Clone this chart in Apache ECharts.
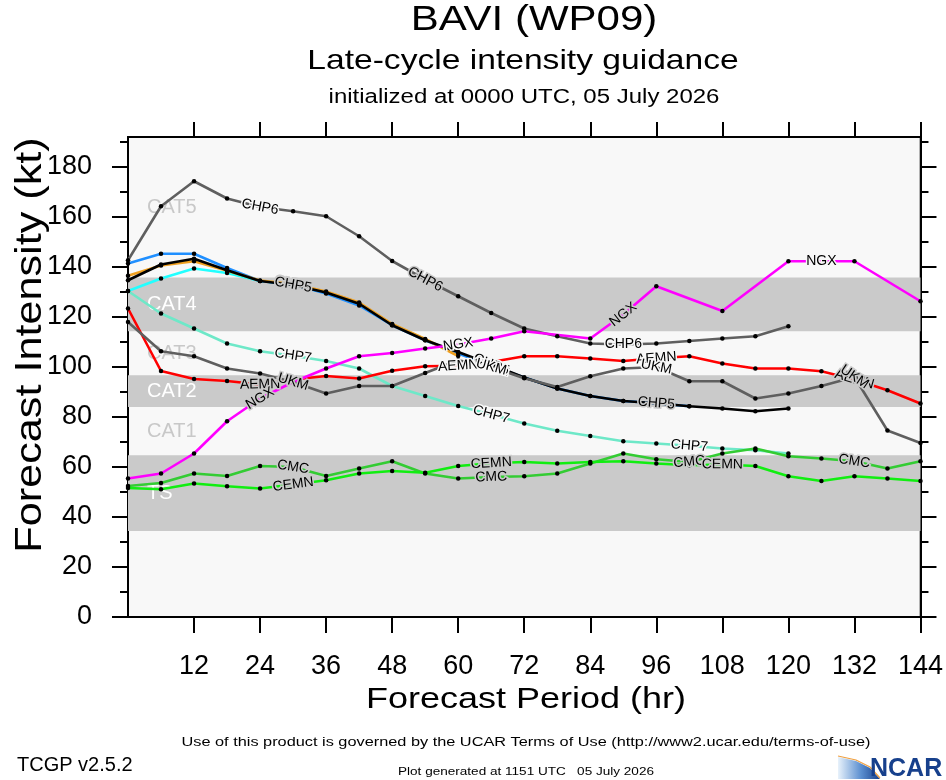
<!DOCTYPE html>
<html>
<head>
<meta charset="utf-8">
<script src="https://cdn.jsdelivr.net/npm/echarts@6/dist/echarts.min.js"></script>
<style>
html, body { margin: 0; padding: 0; background: #fff; }
#main { width: 946px; height: 780px; }
</style>
</head>
<body>
<div id="main"></div>
<script>
var FONT = 'Liberation Sans, Arial, Helvetica, sans-serif';

// forecast hours and axis ticks
var hours = [0,6,12,18,24,30,36,42,48,54,60,66,72,78,84,90,96,102,108,114,120,126,132,138,144];
var xTicks = [12,24,36,48,60,72,84,96,108,120,132,144];
var yTicks = [0,20,40,60,80,100,120,140,160,180];
var yMinorTicks = [10,30,50,70,90,110,130,150,170,190];

// intensity bands (kt)
var bandNames = ['TS','CAT1','CAT2','CAT3','CAT4','CAT5'];
var bandLow   = [34.4, 64.7, 84, 96.7, 114.3, 135.8];
var bandHigh  = [64.7, 84, 96.7, 114.3, 135.8, 192];

// model intensities (kt), one value per 6 h, null = no point
var chp6 = [142.7,164.3,174.3,167.4,164,162.3,160.3,152.3,142.4,135,128.3,121.6,115.4,112.3,109.4,109,109.4,110.4,111.4,112.3,116.3,null,null,null,null];
var cyan = [130.4,135.4,139.4,137.6,134.4,133,129.6,125.4,117,111,null,null,null,null,null,null,null,null,null,null,null,null,null,null,null];
var chp2 = [141.4,145.3,145.3,139.6,134.4,133,129.4,124.6,116.7,110.7,105.4,100.5,95.8,91.4,88.4,86.4,85.5,84.3,null,null,null,null,null,null,null];
var chp3 = [136.5,140.6,142.3,138.5,134.6,133.2,130.2,125.8,117.2,111.2,104.4,null,null,null,null,null,null,null,null,null,null,null,null,null,null];
var chp5 = [134.7,141,143.3,138.7,134.4,132.8,129.8,125.3,116.7,110.7,106,101,95.8,91.4,88.4,86.4,85.5,84.3,83.4,82.3,83.4,null,null,null,null];
var chp7 = [130.4,121.4,115.4,109.4,106.3,104.5,102.4,99.4,92.4,88.4,84.4,81,77.4,74.5,72.4,70.3,69.4,68.5,67.4,66.7,65.4,null,null,null,null];
var aemn = [123.4,98.4,95.2,94.4,93,95,96.4,95.4,98.5,100.3,100.5,102,104.3,104.3,103.4,102.4,103.5,104.3,101.4,99.4,99.4,98.3,95,90.7,85.4];
var ukm  = [118,106.3,104.3,99.4,97.4,94,89.4,92.4,92.4,97.6,102.7,100,95.5,92,96.3,99.4,100,94.3,94.3,87.4,89.4,92.4,96,74.6,69.6];
var ngx  = [55.4,57.4,65.4,78.3,87.4,94,99.4,104.3,105.6,107.4,109,111.4,114.3,null,111.4,121,132.3,null,122.4,null,142.3,142.3,142.3,null,126.3];
var cmc  = [52.4,53.6,57.4,56.4,60.4,60,56.4,59.4,62.3,57.4,55.4,56,56.3,57.4,61.4,65.4,63.1,62,65.4,67.4,64.3,63.4,62.3,59.4,62.3];
var cemn = [51.6,51.1,53.4,52.3,51.4,53,54.7,57.4,58.4,57.7,60.4,61.5,62,61.4,62,62.3,61.4,60.7,61,60.4,56.3,54.4,56.3,55.4,54.4];

var models = [
  { name: 'CHP6', data: chp6, color: '#5f5f5f', labelAt: [24,54,90] },
  { name: 'CHP4', data: cyan, color: '#22ffff', labelAt: [] },
  { name: 'CHP2', data: chp2, color: '#1f8fff', labelAt: [30,66] },
  { name: 'CHP3', data: chp3, color: '#f0a020', labelAt: [66] },
  { name: 'CHP5', data: chp5, color: '#000000', labelAt: [30,66,96] },
  { name: 'CHP7', data: chp7, color: '#6ee8c8', labelAt: [30,66,102] },
  { name: 'AEMN', data: aemn, color: '#ff0000', labelAt: [24,60,96,132] },
  { name: 'UKM',  data: ukm,  color: '#5f5f5f', labelAt: [30,66,96,132] },
  { name: 'NGX',  data: ngx,  color: '#ff00ff', labelAt: [24,60,90,126] },
  { name: 'CMC',  data: cmc,  color: '#33cc33', labelAt: [30,66,102,132] },
  { name: 'CEMN', data: cemn, color: '#11ee11', labelAt: [30,66,108] }
];

var SHADE = '#cacaca', PLAIN = '#f8f8f8';

var myChart = echarts.init(document.getElementById('main'));

function bandColor(v) {
  for (var i = 0; i < bandNames.length; i++) {
    if (v >= bandLow[i] && v < bandHigh[i]) return i % 2 === 0 ? SHADE : PLAIN;
  }
  return PLAIN;
}

function bandAreas() {
  var out = [];
  for (var i = 0; i < bandNames.length; i++) {
    var shaded = (i % 2 === 0);
    out.push([{
      yAxis: bandLow[i],
      name: bandNames[i],
      itemStyle: { color: shaded ? SHADE : 'rgba(0,0,0,0)' },
      label: { color: shaded ? '#ffffff' : '#c8c8c8' }
    }, { yAxis: bandHigh[i] }]);
  }
  return out;
}

function buildSeries(rot) {
  var list = [{
    type: 'line',
    data: [],
    z: 1,
    silent: true,
    markArea: {
      silent: true,
      data: bandAreas(),
      label: { position: 'insideLeft', distance: 19, fontSize: 20, fontFamily: FONT }
    }
  }];
  models.forEach(function (m, si) {
    var pts = [];
    hours.forEach(function (h, i) {
      var v = m.data[i];
      if (v == null) return;
      var lab = m.labelAt.indexOf(h) >= 0;
      var item = { value: [h, v], symbolSize: lab ? 0 : 4.5 };
      if (lab) {
        item.label = {
          show: true, formatter: m.name, position: 'inside',
          rotate: rot ? (rot[si + '_' + h] || 0) : 0,
          fontSize: 14, color: '#000', fontFamily: FONT,
          textBorderColor: bandColor(v), textBorderWidth: 3
        };
      }
      pts.push(item);
    });
    list.push({
      name: m.name,
      type: 'line',
      data: pts,
      z: 3,
      symbol: 'circle',
      itemStyle: { color: '#000' },
      lineStyle: { color: m.color, width: 2.6 },
      label: { show: false },
      emphasis: { disabled: true }
    });
  });
  return list;
}

function axisLineStyle() { return { show: true, onZero: false, lineStyle: { color: '#000', width: 2 } }; }
function tickStyle(vals, len) {
  return { show: true, inside: false, length: len, customValues: vals, lineStyle: { color: '#000', width: 2 } };
}
function bareAxis(pos, vals, len, withLine) {
  return {
    type: 'value', min: 0, max: pos === 'top' ? 144 : 192, position: pos,
    axisLine: withLine ? axisLineStyle() : { show: false, onZero: false },
    axisTick: tickStyle(vals, len),
    axisLabel: { show: false },
    splitLine: { show: false }
  };
}

function txt(x, y, s, size, extra) {
  var el = { type: 'text', x: x, y: y, scaleX: 1.2,
    style: { text: s, font: size + 'px ' + FONT, fill: '#000', textAlign: 'center', textVerticalAlign: 'middle' } };
  for (var k in extra) el[k] = extra[k];
  return el;
}

var option = {
  animation: false,
  backgroundColor: '#ffffff',
  grid: { left: 128, top: 137, width: 794, height: 480, show: true, backgroundColor: PLAIN, borderColor: '#000', borderWidth: 1.5 },
  xAxis: [{
    type: 'value', min: 0, max: 144, position: 'bottom',
    axisLine: axisLineStyle(),
    axisTick: tickStyle(xTicks, 16),
    axisLabel: { customValues: xTicks, fontSize: 27, color: '#000', margin: 36, fontFamily: FONT },
    splitLine: { show: false }
  }, bareAxis('top', xTicks, 15, true)],
  yAxis: [{
    type: 'value', min: 0, max: 192, position: 'left',
    axisLine: axisLineStyle(),
    axisTick: tickStyle(yTicks, 16),
    axisLabel: { customValues: yTicks, fontSize: 27, color: '#000', margin: 36, fontFamily: FONT },
    splitLine: { show: false }
  }, bareAxis('left', yMinorTicks, 8, false),
     bareAxis('right', yTicks, 16, true),
     bareAxis('right', yMinorTicks, 8, false)],
  graphic: [
    txt(534, 20, 'BAVI (WP09)', 35),
    txt(523, 61, 'Late-cycle intensity guidance', 28),
    txt(524, 97, 'initialized at 0000 UTC, 05 July 2026', 20),
    txt(526, 700, 'Forecast Period (hr)', 30),
    txt(31, 345, 'Forecast Intensity (kt)', 36, { rotation: Math.PI / 2 }),
    { type: 'text', x: 17, y: 765, style: { text: 'TCGP v2.5.2', font: '20px ' + FONT, fill: '#000', textVerticalAlign: 'middle' } },
    txt(526, 742, 'Use of this product is governed by the UCAR Terms of Use (http://www2.ucar.edu/terms-of-use)', 13.6),
    txt(526, 772, 'Plot generated at 1151 UTC   05 July 2026', 11.3),
    { type: 'polygon', shape: { points: [[838,757],[856,761],[870,768],[880,779],[838,779]] },
      style: { fill: new echarts.graphic.LinearGradient(0, 0, 1, 0, [{ offset: 0, color: '#e8f2fb' }, { offset: 0.55, color: '#5b8fd0' }, { offset: 1, color: '#17408c' }]) } },
    { type: 'polyline', shape: { points: [[838,756],[856,760],[870,767],[880,778]] }, style: { stroke: '#f0a040', lineWidth: 1.2, fill: null } },
    { type: 'text', x: 870, y: 769, style: { text: 'NCAR', font: 'bold 25px ' + FONT, fill: '#17408c', textVerticalAlign: 'middle' } }
  ],
  series: buildSeries(null)
};
myChart.setOption(option);

// tilt each in-line model label along its line segment
var rot = {};
models.forEach(function (m, si) {
  m.labelAt.forEach(function (h) {
    var i = hours.indexOf(h), j = i - 1, k = i + 1;
    while (j >= 0 && m.data[j] == null) j--;
    while (k < hours.length && m.data[k] == null) k++;
    if (j < 0) j = i;
    if (k >= hours.length) k = i;
    var p1 = myChart.convertToPixel({ gridIndex: 0 }, [hours[j], m.data[j]]);
    var p2 = myChart.convertToPixel({ gridIndex: 0 }, [hours[k], m.data[k]]);
    rot[si + '_' + h] = -Math.atan2(p2[1] - p1[1], p2[0] - p1[0]) * 180 / Math.PI;
  });
});
myChart.setOption({ series: buildSeries(rot) });
</script>
</body>
</html>
